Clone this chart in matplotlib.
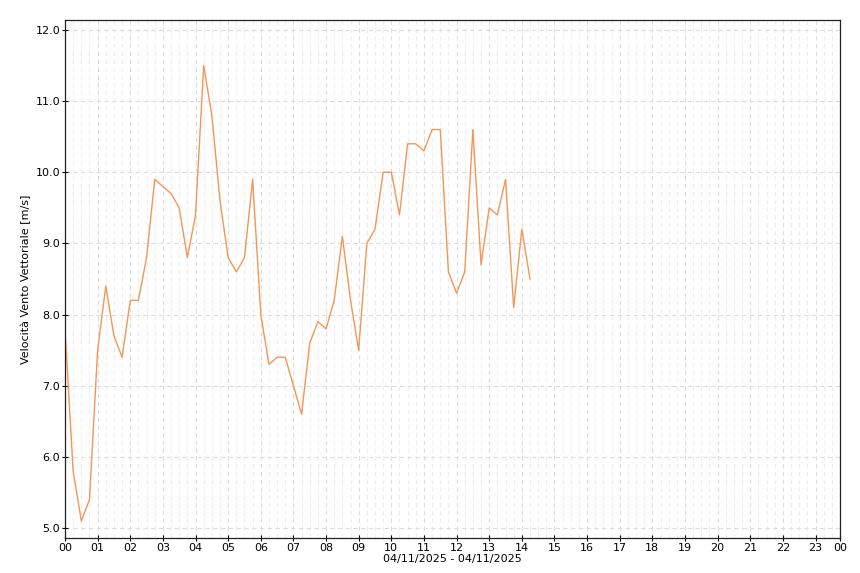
import numpy as np
import matplotlib
matplotlib.use("Agg")
import matplotlib.pyplot as plt
from matplotlib.ticker import MultipleLocator

# wind speed every 15 minutes, 00:00 -> 14:15
speed = [7.8, 5.8, 5.1, 5.4,
         7.5, 8.4, 7.7, 7.4,
         8.2, 8.2, 8.8, 9.9,
         9.8, 9.7, 9.5, 8.8,
         9.4, 11.5, 10.8, 9.6,
         8.8, 8.6, 8.8, 9.9,
         8.0, 7.3, 7.4, 7.4,
         7.0, 6.6, 7.6, 7.9,
         7.8, 8.2, 9.1, 8.2,
         7.5, 9.0, 9.2, 10.0,
         10.0, 9.4, 10.4, 10.4,
         10.3, 10.6, 10.6, 8.6,
         8.3, 8.6, 10.6, 8.7,
         9.5, 9.4, 9.9, 8.1,
         9.2, 8.5]
hours = np.arange(len(speed)) * 0.25
hour_ticks = list(range(24)) + [23.75]
hour_labels = ['%02d' % h for h in range(24)] + ['00']
y_ticks = [5, 6, 7, 8, 9, 10, 11, 12]

plt.rcParams['font.family'] = 'DejaVu Sans'
fig = plt.figure(figsize=(8.6, 5.73), dpi=100)
ax = fig.add_axes([65/860, 1 - 538/573, 775/860, 518/573])

ax.plot(hours, speed, color='#f39656', linewidth=1.0)

ax.set_xlim(0, 23.75)
ax.set_ylim(4.86, 12.14)
ax.set_xticks(hour_ticks)
ax.set_xticklabels(hour_labels, fontsize=8)
ax.xaxis.set_minor_locator(MultipleLocator(0.25))
ax.set_yticks(y_ticks)
ax.set_yticklabels(['%.1f' % v for v in y_ticks], fontsize=8)

ax.grid(which='major', color='#dddddd', linestyle=(0, (4, 3)), linewidth=0.8)
ax.grid(which='minor', axis='x', color='#eeeeee', linestyle=(0, (4, 3)), linewidth=0.8)
ax.set_axisbelow(True)

ax.tick_params(which='major', direction='inout', length=5, width=0.8, pad=1)
ax.tick_params(which='minor', length=0)
for s in ax.spines.values():
    s.set_linewidth(0.9)
    s.set_color('#222222')

ax.set_xlabel('04/11/2025 - 04/11/2025', fontsize=8, labelpad=1)
ax.set_ylabel('Velocità Vento Vettoriale [m/s]', fontsize=8, labelpad=3)

fig.savefig('out.png', dpi=100)
